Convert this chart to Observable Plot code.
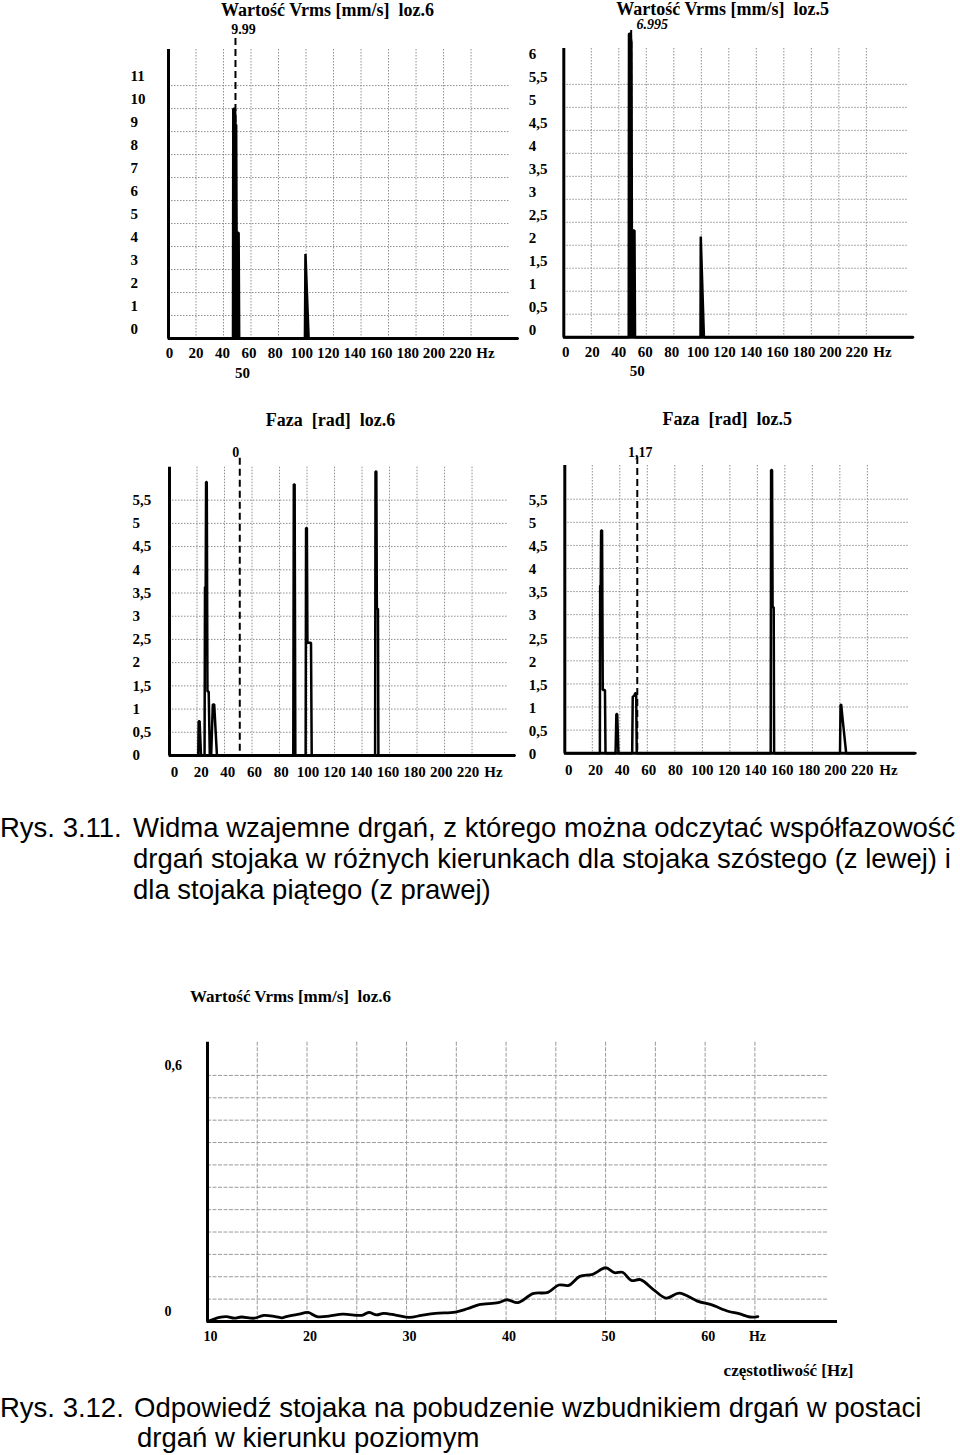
<!DOCTYPE html>
<html><head><meta charset="utf-8">
<script src="https://cdn.jsdelivr.net/npm/d3@7"></script>
<script src="https://cdn.jsdelivr.net/npm/@observablehq/plot@0.6"></script>
<style>
body{margin:0;background:#fff;}
#page{position:relative;width:960px;height:1455px;background:#fff;overflow:hidden;}
.cap{position:absolute;font-family:"Liberation Sans",Arial,sans-serif;font-size:27.5px;line-height:31px;white-space:pre;color:#000;}
svg.chart{position:absolute;overflow:visible;background:transparent;}
</style></head><body><div id="page"></div>
<script>
// ---------- tick labels / grids ----------
const hzTicks = [0, 20, 40, 60, 80, 100, 120, 140, 160, 180, 200, 220];
const hzGrid = [20, 40, 60, 80, 100, 120, 140, 160, 180, 200, 220];
const vrms6Ticks = [0, 1, 2, 3, 4, 5, 6, 7, 8, 9, 10, 11];
const vrms6Grid = [1, 2, 3, 4, 5, 6, 7, 8, 9, 10, 11];
const vrms5Ticks = [0, 0.5, 1, 1.5, 2, 2.5, 3, 3.5, 4, 4.5, 5, 5.5, 6];
const halfGrid = [0.5, 1, 1.5, 2, 2.5, 3, 3.5, 4, 4.5, 5, 5.5];
const phaseTicks = [0, 0.5, 1, 1.5, 2, 2.5, 3, 3.5, 4, 4.5, 5, 5.5];
const respXTicks = [10, 20, 30, 40, 50, 60];
const respXGrid = [15, 20, 25, 30, 35, 40, 45, 50, 55, 60, 65];
const respYTicks = [0, 0.6];
const respYGrid = [1, 2, 3, 4, 5, 6, 7, 8, 9, 10, 11].map(i => i * 0.6 / 11);

// ---------- series: Vrms loz.6 (traced spectrum) ----------
const vrms6Freq = [0, 46.9, 47.1, 48.4, 48.7, 49.2, 49.5, 51.0, 51.4, 99.2, 99.6, 101.9, 254];
const vrms6Val  = [0, 0, 9.99, 9.99, 9.3, 9.3, 4.6, 4.6, 0, 0, 3.68, 0, 0];
// ---------- Vrms loz.5 ----------
const vrms5Freq = [0, 47.2, 47.4, 48.6, 49.2, 49.5, 51.4, 51.8, 99.4, 99.6, 100.1, 101.9, 254];
const vrms5Val  = [0, 0, 6.6, 6.6, 6.4, 2.32, 2.32, 0, 0, 2.19, 1.7, 0, 0];
// ---------- Faza loz.6 ----------
const phase6Freq = [0, 20.9, 21.2, 21.9, 22.9, 25.5, 25.8, 26.3, 26.6, 27.1, 27.6, 28.5, 29.3, 30.3, 31.5, 32.5, 34.5,
  90.0, 90.4, 91.0, 91.5, 99.0, 99.3, 99.9, 100.3, 102.9, 103.4, 149.5, 149.8, 150.4, 150.8, 151.6, 151.9, 251];
const phase6Val  = [0, 0, 0.74, 0.74, 0, 0, 3.63, 3.63, 5.89, 5.89, 1.38, 1.38, 0, 0, 1.1, 1.1, 0,
  0, 5.84, 5.84, 0, 0, 4.9, 4.9, 2.43, 2.43, 0, 0, 6.12, 6.12, 3.16, 3.16, 0, 0];
// ---------- Faza loz.5 ----------
const phase5Freq = [0, 25.5, 25.7, 26.1, 26.4, 27.1, 27.6, 29.2, 29.6, 36.9, 37.5, 38.1, 39.0,
  49.0, 49.4, 50.6, 51.2, 51.9, 52.3, 149.7, 150.0, 150.7, 151.1, 151.9, 152.2, 200.1, 200.5, 201.0, 201.8, 204.6, 255];
const phase5Val  = [0, 0, 3.63, 3.63, 4.82, 4.82, 1.37, 1.37, 0, 0, 0.85, 0.85, 0,
  0, 1.22, 1.25, 1.3, 1.3, 0, 0, 6.13, 6.13, 3.16, 3.16, 0, 0, 1.05, 1.05, 0.8, 0, 0];
// ---------- Response spectrum (Rys. 3.12) ----------
const respFreq = [10.0, 11.2, 11.9, 12.7, 13.4, 14.7, 15.65, 16.8, 17.5, 17.9, 19.2, 20.1, 21.0, 22.2, 23.6, 25.5, 26.2, 27.0, 27.7, 29.0,
  30.3, 31.5, 32.9, 34.9, 36.1, 37.3, 39.2, 40.1, 41.2, 42.7, 44.2, 45.3, 46.3, 47.4, 48.7, 50.0, 50.9, 51.7, 52.6, 53.5,
  54.9, 56.1, 57.4, 59.3, 60.6, 62.3, 63.4, 64.5, 65.3];
const respVal = [0, 0.010, 0.012, 0.008, 0.011, 0.008, 0.015, 0.012, 0.009, 0.012, 0.018, 0.022, 0.012, 0.013, 0.018, 0.015, 0.022, 0.016, 0.020, 0.015,
  0.010, 0.015, 0.020, 0.023, 0.031, 0.041, 0.046, 0.053, 0.046, 0.068, 0.071, 0.089, 0.088, 0.110, 0.115, 0.131, 0.119, 0.120, 0.100, 0.102,
  0.076, 0.057, 0.069, 0.049, 0.041, 0.025, 0.019, 0.011, 0.012];

const serif = "Liberation Serif, 'Times New Roman', serif";
const page = document.getElementById("page");
const gridStyle = {stroke: "#8f8f8f", strokeWidth: 1, strokeDasharray: "1.5,1.5"};
const center = {textAnchor: "middle", lineAnchor: "middle"};
const tickFont = {fontFamily: serif, fontWeight: "bold", fontSize: 15, fill: "#000", lineAnchor: "middle"};
const fmt = t => String(t).replace(".", ",");

function place(svg, left, top) {
  svg.classList.add("chart");
  svg.style.left = left + "px";
  svg.style.top = top + "px";
  page.appendChild(svg);
}

function spikeChart(o) {
  const pts = o.freq.map((f, i) => ({f, v: o.val[i]}));
  const svg = Plot.plot({
    width: o.width, height: o.height,
    marginLeft: o.mL, marginRight: o.mR, marginTop: o.mT, marginBottom: o.mB,
    x: {domain: [0, o.xMax], axis: null},
    y: {domain: [0, o.yMax], axis: null},
    style: {fontFamily: serif, background: "transparent", overflow: "visible"},
    marks: [
      Plot.ruleY(o.hGrid, {y: d => d, x1: () => 0, x2: () => o.gridMax, ...gridStyle}),
      Plot.ruleX(hzGrid, {x: d => d, ...gridStyle}),
      Plot.ruleX([o.marker], {x: d => d, stroke: "#000", strokeWidth: 2, strokeDasharray: "7,4", insetTop: o.markerInset}),
      ...(o.filled ? [Plot.areaY(pts, {x: "f", y: "v", fill: "#000"})] : []),
      Plot.line(pts, {x: "f", y: "v", stroke: "#000", strokeWidth: 2.5, strokeLinejoin: "miter"}),
      Plot.ruleY([0], {y: d => d, stroke: "#000", strokeWidth: 3}),
      Plot.ruleX([0], {x: d => d, stroke: "#000", strokeWidth: 3}),
      Plot.text(o.yTicks, {y: d => d, text: fmt, frameAnchor: "left", textAnchor: "start", dx: o.yLabDx, dy: o.yLabDy, ...tickFont}),
      Plot.text(hzTicks, {x: d => d * o.labScale, text: d => String(d), frameAnchor: "bottom", textAnchor: "middle", dx: o.xLabDx, dy: o.xLabDy, ...tickFont}),
      Plot.text(["Hz"], {text: d => d, frameAnchor: "bottom-right", textAnchor: "middle", dx: o.hzDx, dy: o.xLabDy, ...tickFont}),
      Plot.text([o.title], {text: d => d, frameAnchor: "top", dx: o.titleDx, dy: o.titleDy, ...center,
        fontFamily: serif, fontWeight: "bold", fontSize: 18, fill: "#000"}),
      Plot.text([o.marker], {x: d => d, text: () => o.markerText, frameAnchor: "top", dx: o.mTextDx, dy: o.mTextDy, ...center,
        fontFamily: serif, fontWeight: "bold", fontSize: 14, fontStyle: o.mItalic ? "italic" : "normal", fill: "#000"}),
      ...(o.freqText ? [Plot.text([o.marker], {x: d => d, text: () => o.freqText, frameAnchor: "bottom", textAnchor: "middle", dx: o.fTextDx, dy: o.fTextDy, ...tickFont})] : [])
    ]
  });
  place(svg, o.left, o.top);
}

// Chart 1 — Vrms loz.6
spikeChart({
  left: 120, top: 0, width: 405, height: 390, mL: 48, mR: 7, mT: 49, mB: 52,
  xMax: 254.5, yMax: 12.57, gridMax: 248.7, filled: true,
  freq: vrms6Freq, val: vrms6Val, hGrid: vrms6Grid, yTicks: vrms6Ticks,
  yLabDx: -38, yLabDy: -9, xLabDx: 1, xLabDy: 15, labScale: 0.962, hzDx: -33,
  title: "Wartość Vrms [mm/s] \u00a0loz.6", titleDx: -16, titleDy: -39,
  marker: 48.7, markerInset: -11, markerText: "9.99", mTextDx: 8, mTextDy: -20, mItalic: false,
  freqText: "50", fTextDx: 7, fTextDy: 35
});
// Chart 2 — Vrms loz.5
spikeChart({
  left: 515, top: 0, width: 405, height: 390, mL: 48.3, mR: 7, mT: 48, mB: 53.3,
  xMax: 254.3, yMax: 6.28, gridMax: 250.7, filled: true,
  freq: vrms5Freq, val: vrms5Val, hGrid: halfGrid, yTicks: vrms5Ticks,
  yLabDx: -35, yLabDy: -7, xLabDx: 2, xLabDy: 15, labScale: 0.962, hzDx: -31,
  title: "Wartość Vrms [mm/s] \u00a0loz.5", titleDx: -16, titleDy: -39,
  marker: 49.0, markerInset: -18, markerText: "6.995", mTextDx: 21, mTextDy: -24, mItalic: true,
  freqText: "50", fTextDx: 6, fTextDy: 34
});
// Chart 3 — Faza loz.6
spikeChart({
  left: 120, top: 400, width: 400, height: 390, mL: 49, mR: 5, mT: 66.7, mB: 35,
  xMax: 251.6, yMax: 6.21, gridMax: 246.5, filled: false,
  freq: phase6Freq, val: phase6Val, hGrid: halfGrid, yTicks: phaseTicks,
  yLabDx: -37, yLabDy: 0, xLabDx: 5, xLabDy: 17, labScale: 0.97, hzDx: -22,
  title: "Faza \u00a0[rad] \u00a0loz.6", titleDx: -12, titleDy: -47,
  marker: 51.1, markerInset: -9, markerText: "0", mTextDx: -4, mTextDy: -15, mItalic: false
});
// Chart 4 — Faza loz.5
spikeChart({
  left: 515, top: 400, width: 405, height: 390, mL: 49.3, mR: 5, mT: 65, mB: 37.3,
  xMax: 255, yMax: 6.23, gridMax: 250, filled: false,
  freq: phase5Freq, val: phase5Val, hGrid: halfGrid, yTicks: phaseTicks,
  yLabDx: -36, yLabDy: 1, xLabDx: 4, xLabDy: 17, labScale: 0.97, hzDx: -27,
  title: "Faza \u00a0[rad] \u00a0loz.5", titleDx: -13, titleDy: -46,
  marker: 52.7, markerInset: -8, markerText: "1,17", mTextDx: 3, mTextDy: -13, mItalic: false
});

// Chart 5 — response spectrum
{
  const pts = respFreq.map((f, i) => ({f, v: respVal[i]}));
  const g5 = {stroke: "#9a9a9a", strokeWidth: 1, strokeDasharray: "4,1.5"};
  const f5 = {fontFamily: serif, fontWeight: "bold", fontSize: 14, fill: "#000", lineAnchor: "middle"};
  const svg = Plot.plot({
    width: 720, height: 410, marginLeft: 57, marginRight: 33, marginTop: 66.7, marginBottom: 64,
    x: {domain: [10, 73.3], axis: null},
    y: {domain: [0, 0.681], axis: null},
    style: {fontFamily: serif, background: "transparent", overflow: "visible"},
    marks: [
      Plot.ruleY(respYGrid, {y: d => d, x1: () => 10, x2: () => 72.3, ...g5}),
      Plot.ruleX(respXGrid, {x: d => d, ...g5}),
      Plot.line(pts, {x: "f", y: "v", stroke: "#000", strokeWidth: 2.8, curve: "catmull-rom"}),
      Plot.ruleY([0], {y: d => d, stroke: "#000", strokeWidth: 3}),
      Plot.ruleX([10], {x: d => d, stroke: "#000", strokeWidth: 3}),
      Plot.text(respYTicks, {y: d => d, text: fmt, frameAnchor: "left", textAnchor: "start", dx: -43, dy: -10, ...f5}),
      Plot.text(respXTicks, {x: d => d, text: d => String(d), frameAnchor: "bottom", textAnchor: "middle", dx: 3, dy: 15, ...f5}),
      Plot.text(["Hz"], {text: d => d, frameAnchor: "bottom-right", textAnchor: "middle", dx: -80, dy: 15, ...f5}),
      Plot.text(["Wartość Vrms [mm/s] \u00a0loz.6"], {text: d => d, frameAnchor: "top-left", textAnchor: "start", lineAnchor: "middle", dx: -17.5, dy: -46,
        fontFamily: serif, fontWeight: "bold", fontSize: 17, fill: "#000"}),
      Plot.text(["częstotliwość [Hz]"], {text: d => d, frameAnchor: "bottom-right", ...center, dx: -49, dy: 49,
        fontFamily: serif, fontWeight: "bold", fontSize: 17, fill: "#000"})
    ]
  });
  place(svg, 150, 975);
}

// ---------- captions ----------
const captionLines = [
  {text: "Rys. 3.11.", left: 0, base: 837},
  {text: "Widma wzajemne drgań, z którego można odczytać współfazowość", left: 133, base: 837},
  {text: "drgań stojaka w różnych kierunkach dla stojaka szóstego (z lewej) i", left: 133, base: 868},
  {text: "dla stojaka piątego (z prawej)", left: 133, base: 899},
  {text: "Rys. 3.12.", left: 0, base: 1417},
  {text: "Odpowiedź stojaka na pobudzenie wzbudnikiem drgań w postaci", left: 134, base: 1417},
  {text: "drgań w kierunku poziomym", left: 137, base: 1447}
];
for (const c of captionLines) {
  const d = document.createElement("div");
  d.className = "cap";
  d.textContent = c.text;
  d.style.left = c.left + "px";
  d.style.top = (c.base - 25.3) + "px";
  page.appendChild(d);
}
</script></body></html>
